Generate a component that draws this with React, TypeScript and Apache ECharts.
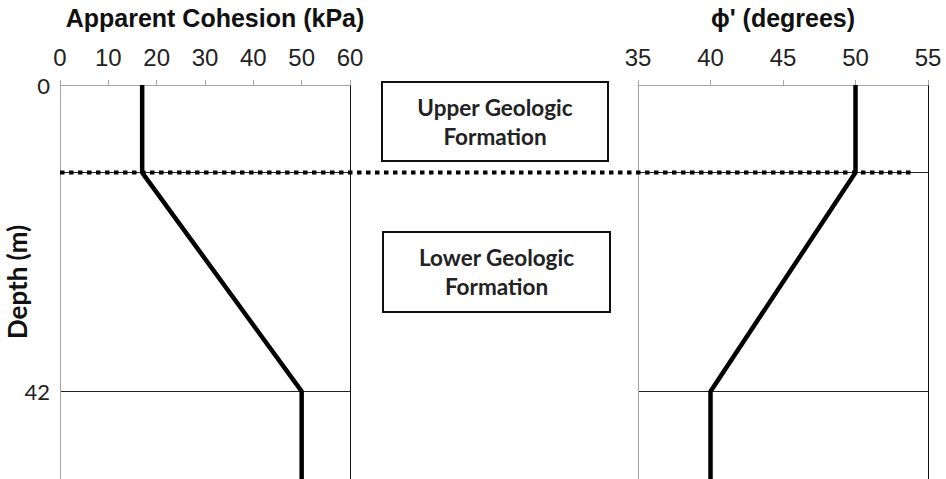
import React, { useEffect, useRef } from "react";
import * as echarts from "echarts";

const depths = [0, 12, 42, 54];
const cohesion = [17, 17, 50, 50];
const phi = [50, 50, 40, 40];
const boundaryDepth = 12;
const boundarySpan = [0, 98.5];
const depthLabels = [0, 42];
const depthLines = [12, 42];
const depthMax = 54;
const cohesionRange = [0, 60, 10];
const phiRange = [35, 55, 5];
const upperText = "Upper Geologic\nFormation";
const lowerText = "Lower Geologic\nFormation";

export default function App() {
  const ref = useRef<HTMLDivElement>(null);
  useEffect(() => {
    if (!ref.current) return;
    const chart = echarts.init(ref.current, null, { renderer: "svg" });
    const gray = "#a6a6a6";
    const xAxisCommon = (min: number, max: number, interval: number, name: string, padLeft: number) => ({
      type: "value",
      position: "top",
      min,
      max,
      interval,
      name,
      nameLocation: "middle",
      nameGap: 55,
      nameTextStyle: {
        fontFamily: "Liberation Sans",
        fontWeight: "bold",
        fontSize: 25,
        color: "#111",
        padding: [0, 0, 0, padLeft],
      },
      axisLine: { show: true, lineStyle: { color: gray, width: 1 } },
      axisTick: { show: true, inside: false, length: 5, lineStyle: { color: gray } },
      axisLabel: { fontFamily: "Liberation Sans", fontSize: 24, color: "#222", margin: 16 },
      splitLine: { show: false },
    });
    const yLeft = (gridIndex: number, showLabels: boolean) => ({
      type: "value",
      gridIndex,
      inverse: true,
      min: 0,
      max: depthMax,
      position: "left",
      name: showLabels ? "Depth (m)" : "",
      nameLocation: "middle",
      nameGap: 30,
      nameMoveOverlap: false,
      nameRotate: 90,
      nameTextStyle: { fontFamily: "Lato", fontWeight: "bold", fontSize: 26, color: "#111" },
      axisLine: { show: true, lineStyle: { color: gray, width: 1 } },
      axisTick: { show: false, customValues: depthLines },
      axisLabel: {
        show: showLabels,
        customValues: depthLabels,
        fontFamily: "Lato",
        fontSize: 22,
        color: "#222",
        margin: 10,
      },
      splitLine: { show: true, lineStyle: { color: "#222", width: 1 } },
    });
    const yRight = (gridIndex: number) => ({
      type: "value",
      gridIndex,
      inverse: true,
      min: 0,
      max: depthMax,
      position: "right",
      axisLine: { show: true, lineStyle: { color: "#111", width: 1 } },
      axisTick: { show: false },
      axisLabel: { show: false },
      splitLine: { show: false },
    });
    const boxes = [
      { x: 382, y: 82, w: 226, h: 79, text: upperText },
      { x: 383, y: 232, w: 227, h: 80, text: lowerText },
    ];
    chart.setOption({
      animation: false,
      backgroundColor: "#fff",
      grid: [
        { left: 60, width: 290, top: 85, bottom: 0, outerBoundsMode: "none" },
        { left: 638, width: 290, top: 85, bottom: 0, outerBoundsMode: "none" },
        { left: 60, right: 18, top: 85, bottom: 0, outerBoundsMode: "none" },
      ],
      xAxis: [
        { ...xAxisCommon(cohesionRange[0], cohesionRange[1], cohesionRange[2], "Apparent Cohesion (kPa)", 20), gridIndex: 0 },
        { ...xAxisCommon(phiRange[0], phiRange[1], phiRange[2], "ϕ' (degrees)", 0), gridIndex: 1 },
        { type: "value", gridIndex: 2, min: 0, max: 100, show: false },
      ],
      yAxis: [
        yLeft(0, true),
        yRight(0),
        yLeft(1, false),
        yRight(1),
        { type: "value", gridIndex: 2, inverse: true, min: 0, max: depthMax, show: false },
      ],
      series: [
        {
          type: "line",
          xAxisIndex: 0,
          yAxisIndex: 0,
          data: depths.map((d, i) => [cohesion[i], d]),
          symbol: "none",
          lineStyle: { color: "#000", width: 4.5 },
          z: 3,
        },
        {
          type: "line",
          xAxisIndex: 1,
          yAxisIndex: 2,
          data: depths.map((d, i) => [phi[i], d]),
          symbol: "none",
          lineStyle: { color: "#000", width: 4.5 },
          z: 3,
        },
        {
          type: "line",
          xAxisIndex: 2,
          yAxisIndex: 4,
          data: boundarySpan.map((x) => [x, boundaryDepth]),
          symbol: "none",
          lineStyle: { color: "#000", width: 4, type: [4.5, 4.5], cap: "butt" },
          z: 4,
        },
      ],
      graphic: boxes.map((b) => ({
        type: "group",
        children: [
          {
            type: "rect",
            shape: { x: b.x, y: b.y, width: b.w, height: b.h },
            style: { fill: "#fff", stroke: "#111", lineWidth: 2 },
          },
          {
            type: "text",
            x: b.x + b.w / 2,
            y: b.y + b.h / 2,
            style: {
              text: b.text,
              fontFamily: "Lato",
              fontWeight: "bold",
              fontSize: 22.5,
              lineHeight: 29,
              fill: "#222",
              align: "center",
              verticalAlign: "middle",
            },
          },
        ],
      })),
    });
    return () => chart.dispose();
  }, []);
  return <div ref={ref} style={{ position: "absolute", left: 0, top: 0, width: 946, height: 479 }} />;
}
